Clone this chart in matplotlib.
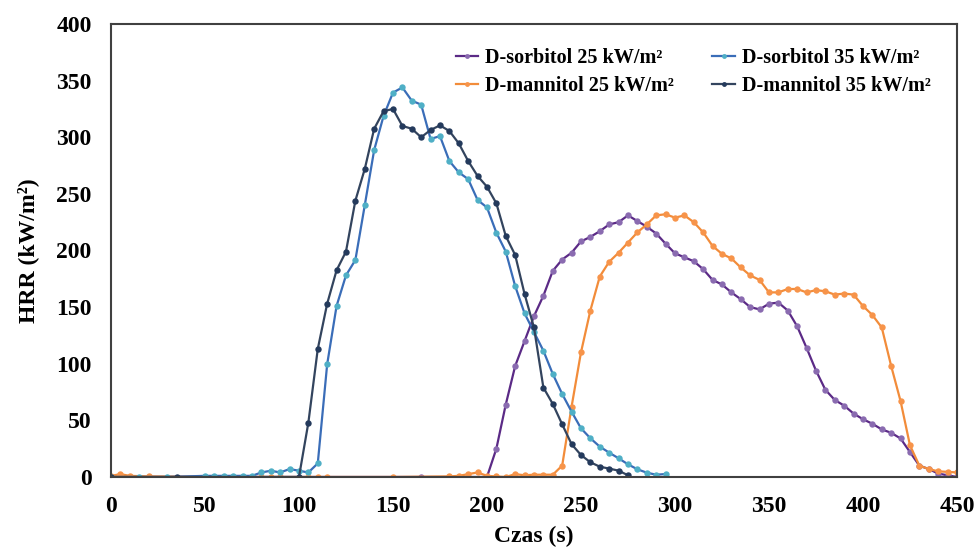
import matplotlib
matplotlib.use("Agg")
import matplotlib.pyplot as plt

plt.rcParams['font.family'] = ['Liberation Serif', 'DejaVu Serif']
plt.rcParams['font.weight'] = 'bold'

# Heat release rate (HRR) curves, time in seconds
sorb25_t = [0, 50, 90, 165, 180, 190, 200, 205, 210, 215, 220, 225, 230, 235,
            240, 245, 250, 255, 260, 265, 270, 275, 280, 285, 290, 295, 300,
            305, 310, 315, 320, 325, 330, 335, 340, 345, 350, 355, 360, 365,
            370, 375, 380, 385, 390, 395, 400, 405, 410, 415, 420, 425, 430,
            435, 440, 445, 450]
sorb25_hrr = [0, 0, 0, 0, 0, 0, 0, 25, 64, 98, 120, 142, 160, 182,
              192, 198, 208, 212, 217, 223, 225, 231, 226, 221, 215, 206, 197.5,
              194, 190.5, 183.5, 174, 170, 163, 157, 150, 148, 153, 154, 147, 133,
              114, 94, 77, 68, 63, 56, 51, 47, 42, 39, 34, 22, 10,
              7, 3, 1.5, 0]

mann25_t = [0, 5, 10, 20, 75, 80, 85, 90, 105, 110, 115, 150, 180, 185, 190,
            195, 200, 205, 210, 215, 220, 225, 230, 235, 240, 245, 250, 255,
            260, 265, 270, 275, 280, 285, 290, 295, 300, 305, 310, 315, 320,
            325, 330, 335, 340, 345, 350, 355, 360, 365, 370, 375, 380, 385,
            390, 395, 400, 405, 410, 415, 420, 425, 430, 435, 440, 445, 450]
mann25_hrr = [1, 2.5, 1, 0.5, 0, 0, 0, 0, 0, 0, 0, 0, 0.5, 1, 2.5,
              4, 1, 0.5, 0, 2.5, 1.5, 2, 2, 2, 10, 62, 110, 147,
              177, 190, 198, 207, 216, 223, 231, 232, 229, 231, 225, 216, 204,
              197, 193, 185, 178, 174, 163, 163, 166, 166, 163, 165, 164, 161,
              162, 161, 151, 143, 132, 98, 67, 28, 10, 7, 5, 4.5, 4]

sorb35_t = [0, 15, 30, 50, 55, 60, 65, 70, 75, 80, 85, 90, 95, 100, 105, 110,
            115, 120, 125, 130, 135, 140, 145, 150, 155, 160, 165, 170, 175,
            180, 185, 190, 195, 200, 205, 210, 215, 220, 225, 230, 235, 240,
            245, 250, 255, 260, 265, 270, 275, 280, 285, 290, 295]
sorb35_hrr = [0, 0, 0, 1, 1, 1, 1, 1, 1, 4, 5.5, 4, 7, 5.5, 4, 12,
              99.5, 151, 178, 191.6, 240, 288.7, 318.8, 339.4, 344, 332.3, 328.8,
              298.5, 301, 279, 269, 263, 244.6, 238, 215.7, 199, 168.6, 144.5,
              128, 111.5, 91, 73.3, 57.7, 43, 34.2, 26.8, 21.5, 16.5, 11.2, 6.8,
              3.8, 2, 2.6]

mann35_t = [0, 35, 100, 105, 110, 115, 120, 125, 130, 135, 140, 145, 150, 155,
            160, 165, 170, 175, 180, 185, 190, 195, 200, 205, 210, 215, 220,
            225, 230, 235, 240, 245, 250, 255, 260, 265, 270, 275]
mann35_hrr = [0, 0, 0, 48, 113, 153, 182.5, 199, 244, 272, 307.5, 323, 325, 310,
              307.5, 300, 306.4, 310.5, 305.5, 294.6, 279, 265.8, 256.3, 241.6,
              212.8, 196, 161.6, 132, 79, 64.5, 46.5, 29, 19.4, 13, 9.1, 7.4,
              5.6, 1.5]

labels = ["D-sorbitol 25 kW/m²", "D-mannitol 25 kW/m²",
          "D-sorbitol 35 kW/m²", "D-mannitol 35 kW/m²"]
x_ticks = [0, 50, 100, 150, 200, 250, 300, 350, 400, 450]
y_ticks = [0, 50, 100, 150, 200, 250, 300, 350, 400]

series = [
    (sorb25_t, sorb25_hrr, "#5B2A86", "#8A6BB0"),
    (mann25_t, mann25_hrr, "#F28C3A", "#F7944A"),
    (sorb35_t, sorb35_hrr, "#3A6DB8", "#4FAFC6"),
    (mann35_t, mann35_hrr, "#33445E", "#243A5C"),
]

fig = plt.figure(figsize=(9.76, 5.48), dpi=100)
ax = fig.add_axes([0.1137, 0.1296, 0.8668, 0.8266])

for (t, v, lc, mc), lab in zip(series, labels):
    ax.plot(t, v, color=lc, lw=1.6, marker='o', markersize=4.6,
            markerfacecolor=mc, markeredgecolor=mc, markeredgewidth=0,
            label=lab)

ax.set_xlim(0, 450)
ax.set_ylim(0, 400)
ax.set_xticks(x_ticks)
ax.set_yticks(y_ticks)
ax.tick_params(length=0, labelsize=17, pad=14)
for lbl in ax.get_xticklabels() + ax.get_yticklabels():
    lbl.set_fontweight('bold')

for sp in ax.spines.values():
    sp.set_color("#404040")
    sp.set_linewidth(1.5)

ax.set_xlabel("Czas (s)", fontsize=17, fontweight='bold', labelpad=6)
ax.set_ylabel("HRR (kW/m²)", fontsize=17, fontweight='bold', labelpad=12)

leg = ax.legend(ncol=2, loc='upper left', bbox_to_anchor=(0.408, 0.947),
                frameon=False, handlelength=1.1,
                handletextpad=0.35, columnspacing=1.9, labelspacing=0.38,
                borderaxespad=0, borderpad=0,
                prop={'weight': 'bold', 'size': 14.5})
for h in leg.get_lines():
    h.set_markersize(3.5)

fig.savefig("out.png", dpi=100)
